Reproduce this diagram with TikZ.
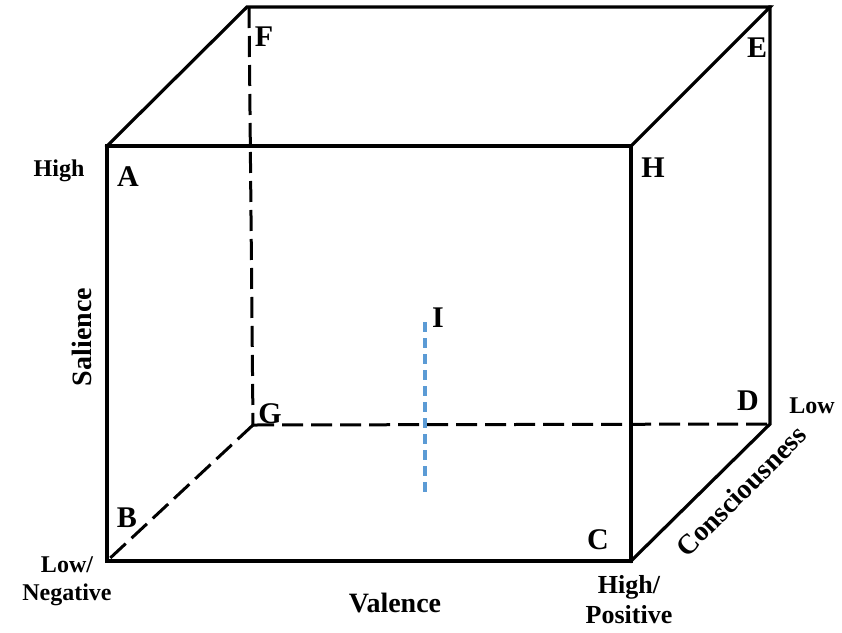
\documentclass[tikz,border=0pt]{standalone}
\usepackage{fontspec}
\setmainfont{Liberation Serif}
\begin{document}
\begin{tikzpicture}[x=1pt,y=-1pt,
  edge/.style={line width=3.2pt,line join=miter,line cap=rect},
  hidden/.style={line width=3pt,dash pattern=on 21pt off 8pt},
  probe/.style={line width=3.2pt,color=probeblue,dash pattern=on 10pt off 6pt},
  corner/.style={font=\fontsize{30}{32}\selectfont\bfseries,inner sep=0pt},
  axis/.style={font=\fontsize{28}{30}\selectfont\bfseries,inner sep=0pt},
  tick/.style={font=\fontsize{24}{28}\selectfont\bfseries,inner sep=0pt,align=center}]
\definecolor{probeblue}{RGB}{91,155,213}
\useasboundingbox (0,0) rectangle (842,632);
% corners
\coordinate (A) at (107,146);
\coordinate (H) at (631,146);
\coordinate (B) at (107,561);
\coordinate (C) at (631,561);
\coordinate (F) at (247,7);
\coordinate (Fd) at (249,7);
\coordinate (E) at (770,7);
\coordinate (G) at (253,425);
\coordinate (D) at (770,424);
\coordinate (I1) at (425,322);
\coordinate (I2) at (425,492);
% hidden edges
\draw[hidden] (Fd) -- (G);
\draw[hidden] (G) -- (D);
\draw[hidden] (G) -- (B);
% probe
\draw[probe] (I1) -- (I2);
% visible edges
\draw[edge] (A) -- (H) -- (C) -- (B) -- cycle;
\draw[edge] (A) -- (F) -- (E) -- (H);
\draw[edge] (E) -- (D) -- (C);
% corner labels
\node[corner] (lA) at (128,177) {A};
\node[corner] (lH) at (653,168) {H};
\node[corner] (lF) at (264,37) {F};
\node[corner] (lE) at (757,48) {E};
\node[corner] (lG) at (270,414) {G};
\node[corner] (lD) at (748,401) {D};
\node[corner] (lB) at (127,518) {B};
\node[corner] (lC) at (598,540) {C};
\node[corner] (lI) at (438,318) {I};
% axis labels
\node[tick] (high) at (59,171) {High};
\node[tick] (lowneg) at (67,581) {Low/\\Negative};
\node[tick,font=\fontsize{26}{30}\selectfont\bfseries] (highpos) at (629,600) {High/\\Positive};
\node[tick] (low) at (812,406) {Low};
\node[axis] (val) at (395,603) {Valence};
\node[axis,rotate=90] (sal) at (82,337) {Salience};
\node[axis,rotate=45] (con) at (741,491) {Consciousness};
\end{tikzpicture}
\end{document}
